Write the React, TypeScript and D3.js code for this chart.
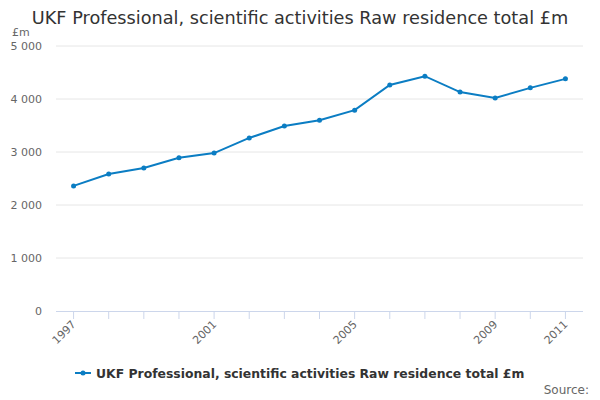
import * as d3 from "d3";

const years = ["1997","1998","1999","2000","2001","2002","2003","2004","2005","2006","2007","2008","2009","2010","2011"];
const values = [2360,2585,2700,2890,2980,3265,3490,3600,3790,4265,4430,4130,4020,4210,4380];
const shownYears = ["1997","2001","2005","2009","2011"];
const yTicks = [0,1000,2000,3000,4000,5000];
const title = "UKF Professional, scientific activities Raw residence total £m";
const color = "#0b7dc3";

export default function App() {
  const left = 56, right = 583, top = 46, bottom = 311;
  const x = d3.scaleBand<string>().domain(years).range([left, right]);
  const y = d3.scaleLinear().domain([0, 5000]).range([bottom, top]);
  const cx = (yr: string) => (x(yr) ?? 0) + x.bandwidth() / 2;
  const line = d3.line<number>().x((_, i) => cx(years[i])).y((v) => y(v));
  const fmt = (v: number) => d3.format(",")(v).replace(",", " ");
  return (
    <svg width={600} height={400} style={{ position: "absolute", left: 0, top: 0, fontFamily: "DejaVu Sans, sans-serif" }}>
      <rect width={600} height={400} fill="#fff" />
      <text x={300} y={24} textAnchor="middle" fontSize={17.7} fill="#333">{title}</text>
      <text x={12} y={36} fontSize={11} fill="#666">£m</text>
      {yTicks.map((t) => (
        <g key={t}>
          {t > 0 && <line x1={left} x2={right} y1={y(t)} y2={y(t)} stroke="#e6e6e6" />}
          <text x={42} y={y(t) + 4} textAnchor="end" fontSize={11} fill="#666">{fmt(t)}</text>
        </g>
      ))}
      <line x1={left} x2={right} y1={bottom + 0.5} y2={bottom + 0.5} stroke="#ccd6eb" />
      {years.map((yr) => (
        <line key={yr} x1={cx(yr)} x2={cx(yr)} y1={bottom} y2={bottom + 8} stroke="#ccd6eb" />
      ))}
      {shownYears.map((yr) => (
        <text key={yr} transform={`translate(${cx(yr) + 3},${bottom + 14}) rotate(-45)`} textAnchor="end" fontSize={11} fill="#666">{yr}</text>
      ))}
      <path d={line(values) ?? ""} fill="none" stroke={color} strokeWidth={2} />
      {values.map((v, i) => (
        <circle key={i} cx={cx(years[i])} cy={y(v)} r={2.5} fill={color} />
      ))}
      <line x1={75} x2={91} y1={373} y2={373} stroke={color} strokeWidth={2} />
      <circle cx={83} cy={373} r={2.5} fill={color} />
      <text x={96} y={378} fontSize={12.4} fontWeight="bold" fill="#333">{title}</text>
      <text x={589} y={394} textAnchor="end" fontSize={12} fill="#666">Source:</text>
    </svg>
  );
}
